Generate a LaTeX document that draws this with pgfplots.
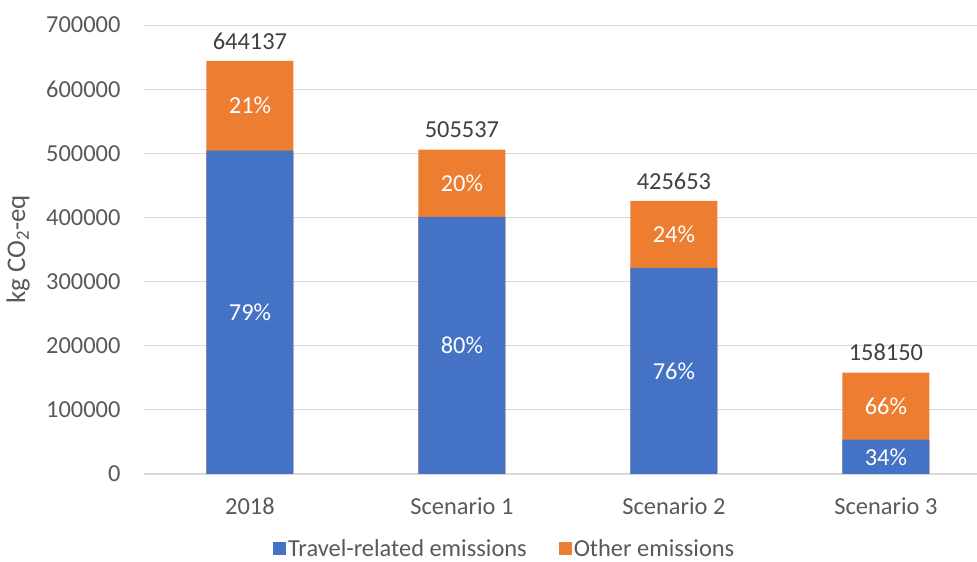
\documentclass[border=0pt]{standalone}
\usepackage{pgfplots}
\pgfplotsset{compat=1.18}
\usepackage{fontspec}
\setmainfont{Carlito}
\definecolor{cblue}{HTML}{4472C4}
\definecolor{corange}{HTML}{ED7D31}
\definecolor{tickgray}{HTML}{595959}
\definecolor{labgray}{HTML}{404040}
\definecolor{gridgray}{HTML}{D9D9D9}
\tikzset{pct/.style={font=\fontsize{24.5}{29}\selectfont, text=white}, tot/.style={font=\fontsize{24.5}{29}\selectfont, text=labgray}}
\begin{document}
\begin{tikzpicture}[x=1bp,y=1bp]
\useasboundingbox (-144,-88) rectangle (833,474);
\begin{axis}[
  at={(0,0)}, anchor=south west,
  scale only axis, width=833bp, height=449bp,
  ybar, bar shift=0pt, bar width=87bp,
  xmin=-0.5, xmax=3.43, ymin=0, ymax=700000,
  ytick={0,100000,200000,300000,400000,500000,600000,700000},
  scaled y ticks=false,
  yticklabel style={/pgf/number format/fixed, /pgf/number format/1000 sep={}, /pgf/number format/assume math mode=true, font=\fontsize{24.5}{29}\selectfont, text=tickgray, xshift=-20bp},
  xtick={0,1,2,3},
  xticklabels={2018,Scenario 1,Scenario 2,Scenario 3},
  xticklabel style={font=\fontsize{24.5}{29}\selectfont, text=tickgray, yshift=-20bp},
  major tick length=0pt,
  axis x line*=bottom, axis y line*=left,
  y axis line style={draw=none},
  x axis line style={draw=gridgray, line width=1.3pt},
  ymajorgrids, grid style={gridgray, line width=0.9pt},
  ylabel={kg CO\textsubscript{2}-eq},
  ylabel style={font=\fontsize{27}{32}\selectfont, text=tickgray, at={(axis description cs:-0.151,0.5)}, anchor=center},
  legend style={at={(axis description cs:0.433,-0.166)}, anchor=center, draw=none, legend columns=2,
    font=\fontsize{24.5}{29}\selectfont, text=tickgray,
    /tikz/every even column/.append style={column sep=30bp}},
  legend image code/.code={\fill[#1] (0bp,-6.5bp) rectangle (13bp,6.5bp);},
]
% totals (orange part shows above the travel-related part)
\addplot[fill=corange, draw=none, forget plot] coordinates {(0,644137) (1,505537) (2,425653) (3,158150)};
\addplot[fill=cblue, draw=none] coordinates {(0,504000) (1,401000) (2,321500) (3,53500)};
\addlegendentry{Travel-related emissions}
\addlegendimage{fill=corange, draw=none}
\addlegendentry{Other emissions}
\node[pct] at (axis cs:0,252000) {79\%};
\node[pct] at (axis cs:1,200500) {80\%};
\node[pct] at (axis cs:2,160750) {76\%};
\node[pct] at (axis cs:3,26750) {34\%};
\node[pct] at (axis cs:0,574068) {21\%};
\node[pct] at (axis cs:1,453268) {20\%};
\node[pct] at (axis cs:2,373576) {24\%};
\node[pct] at (axis cs:3,105825) {66\%};
\node[tot] at (axis cs:0,675137) {644137};
\node[tot] at (axis cs:1,536537) {505537};
\node[tot] at (axis cs:2,456653) {425653};
\node[tot] at (axis cs:3,189150) {158150};
\end{axis}
\end{tikzpicture}
\end{document}
